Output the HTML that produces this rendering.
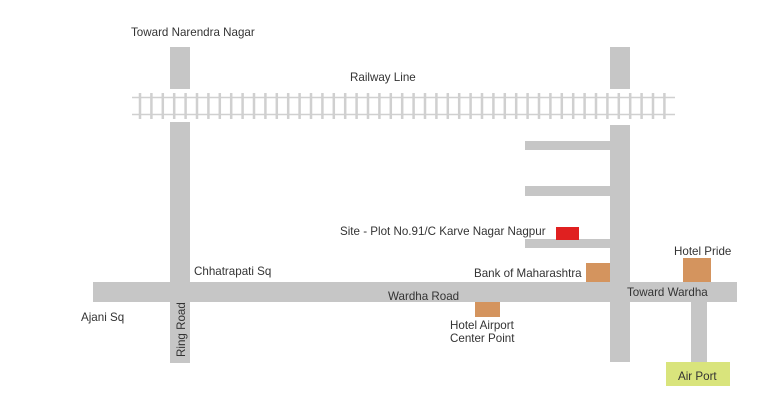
<!DOCTYPE html>
<html><head><style>body{margin:0;background:#fff}svg{display:block}text{font-family:"Liberation Sans",sans-serif;font-size:11.6px;fill:#333}</style></head>
<body>
<svg width="767" height="407" viewBox="0 0 767 407" xmlns="http://www.w3.org/2000/svg">
<rect width="767" height="407" fill="#fff"/>
<g fill="#c6c6c6">
<rect x="170" y="47" width="20" height="42"/>
<rect x="170" y="122" width="20" height="241"/>
<rect x="610" y="47" width="20" height="42"/>
<rect x="610" y="125" width="20" height="237"/>
<rect x="93" y="282" width="644" height="20"/>
<rect x="525" y="141" width="85" height="9"/>
<rect x="525" y="186" width="85" height="10"/>
<rect x="525" y="239" width="85" height="9"/>
<rect x="691" y="302" width="16" height="60"/>
</g>
<g id="rail" stroke="#d0d0d0">
<line x1="132" y1="97.5" x2="675" y2="97.5" stroke-width="1.5"/>
<line x1="132" y1="114.5" x2="675" y2="114.5" stroke-width="1.5"/>
<path d="M140 93V119 M151.4 93V119 M162.8 93V119 M174.2 93V119 M185.6 93V119 M197 93V119 M208.4 93V119 M219.8 93V119 M231.2 93V119 M242.6 93V119 M254 93V119 M265.4 93V119 M276.8 93V119 M288.2 93V119 M299.6 93V119 M311 93V119 M322.4 93V119 M333.8 93V119 M345.2 93V119 M356.6 93V119 M368 93V119 M379.4 93V119 M390.8 93V119 M402.2 93V119 M413.6 93V119 M425 93V119 M436.4 93V119 M447.8 93V119 M459.2 93V119 M470.6 93V119 M482 93V119 M493.4 93V119 M504.8 93V119 M516.2 93V119 M527.6 93V119 M539 93V119 M550.4 93V119 M561.8 93V119 M573.2 93V119 M584.6 93V119 M596 93V119 M607.4 93V119 M618.8 93V119 M630.2 93V119 M641.6 93V119 M653 93V119 M664.4 93V119" stroke-width="2.5"/>
</g>
<rect x="556" y="227" width="23" height="13" fill="#e02020"/>
<g fill="#d4945e">
<rect x="586" y="263" width="24" height="19"/>
<rect x="683" y="258" width="28" height="24"/>
<rect x="475" y="302" width="25" height="15"/>
</g>
<rect x="666" y="362" width="64" height="24" fill="#d9e47c"/>
<text x="131" y="36">Toward Narendra Nagar</text>
<text x="350" y="81">Railway Line</text>
<text x="340" y="235">Site - Plot No.91/C Karve Nagar Nagpur</text>
<text x="194" y="275">Chhatrapati Sq</text>
<text x="388" y="300">Wardha Road</text>
<text x="81" y="321">Ajani Sq</text>
<text transform="translate(185,357) rotate(-90)">Ring Road</text>
<text x="474" y="277">Bank of Maharashtra</text>
<text x="674" y="255">Hotel Pride</text>
<text x="627" y="296">Toward Wardha</text>
<text x="450" y="329">Hotel Airport</text>
<text x="450" y="342">Center Point</text>
<text x="678" y="380">Air Port</text>
</svg>
</body></html>
